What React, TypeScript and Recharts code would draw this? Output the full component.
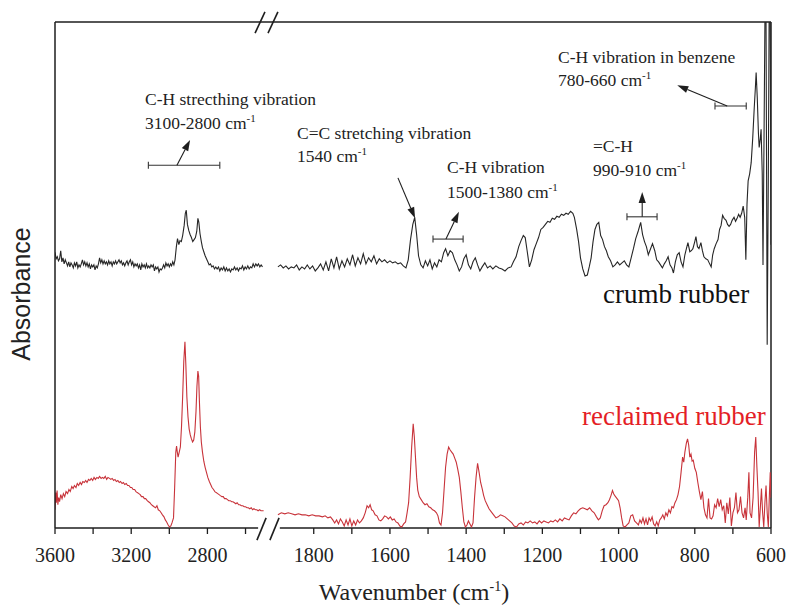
import { LineChart, Line, XAxis, YAxis, ReferenceLine } from 'recharts';

// FTIR spectra, [wavenumber (cm-1), absorbance (a.u.)]
const crumbHigh: [number, number][] = [
  [3600, 0.545], [3594, 0.532], [3588, 0.536], [3582, 0.528], [3576, 0.532], [3570, 0.548], [3564, 0.526], [3558, 0.534],
  [3552, 0.522], [3546, 0.53], [3540, 0.524], [3534, 0.518], [3528, 0.526], [3522, 0.516], [3516, 0.524], [3510, 0.52],
  [3504, 0.514], [3498, 0.524], [3492, 0.518], [3486, 0.526], [3480, 0.514], [3474, 0.52], [3468, 0.516], [3462, 0.522],
  [3456, 0.53], [3450, 0.52], [3444, 0.526], [3438, 0.518], [3432, 0.524], [3426, 0.516], [3420, 0.522], [3414, 0.512],
  [3408, 0.52], [3402, 0.516], [3396, 0.52], [3390, 0.51], [3384, 0.518], [3378, 0.514], [3372, 0.522], [3366, 0.534],
  [3360, 0.524], [3354, 0.53], [3348, 0.522], [3342, 0.528], [3336, 0.522], [3330, 0.526], [3324, 0.52], [3318, 0.528],
  [3312, 0.522], [3306, 0.526], [3300, 0.518], [3294, 0.526], [3288, 0.522], [3282, 0.528], [3276, 0.522], [3270, 0.526],
  [3264, 0.53], [3258, 0.524], [3252, 0.528], [3246, 0.52], [3240, 0.524], [3234, 0.518], [3228, 0.524], [3222, 0.528],
  [3216, 0.52], [3210, 0.526], [3204, 0.53], [3198, 0.52], [3192, 0.526], [3186, 0.516], [3180, 0.522], [3174, 0.518],
  [3168, 0.522], [3162, 0.514], [3156, 0.52], [3150, 0.51], [3144, 0.522], [3138, 0.516], [3132, 0.52], [3126, 0.514],
  [3120, 0.522], [3114, 0.514], [3108, 0.518], [3102, 0.514], [3096, 0.52], [3090, 0.516], [3084, 0.52], [3078, 0.508],
  [3072, 0.516], [3066, 0.512], [3060, 0.516], [3054, 0.506], [3048, 0.512], [3042, 0.51], [3036, 0.514], [3030, 0.52],
  [3024, 0.514], [3018, 0.524], [3012, 0.518], [3006, 0.522], [3000, 0.516], [2994, 0.522], [2988, 0.518], [2982, 0.526],
  [2976, 0.52], [2970, 0.53], [2963, 0.556], [2957, 0.572], [2950, 0.56], [2944, 0.568], [2937, 0.566], [2930, 0.578],
  [2922, 0.598], [2916, 0.622], [2911, 0.628], [2905, 0.6], [2898, 0.588], [2891, 0.58], [2884, 0.574], [2877, 0.566],
  [2870, 0.57], [2863, 0.574], [2856, 0.586], [2850, 0.612], [2845, 0.604], [2839, 0.582], [2832, 0.566], [2826, 0.554],
  [2819, 0.546], [2812, 0.538], [2805, 0.532], [2798, 0.526], [2791, 0.52], [2784, 0.522], [2777, 0.516], [2770, 0.518],
  [2763, 0.512], [2756, 0.516], [2749, 0.512], [2742, 0.516], [2735, 0.508], [2728, 0.514], [2721, 0.51], [2714, 0.516],
  [2707, 0.508], [2700, 0.514], [2693, 0.508], [2686, 0.512], [2679, 0.506], [2672, 0.512], [2665, 0.51], [2658, 0.516],
  [2651, 0.51], [2644, 0.514], [2637, 0.508], [2630, 0.514], [2623, 0.512], [2616, 0.518], [2609, 0.51], [2602, 0.516],
  [2595, 0.512], [2588, 0.518], [2581, 0.512], [2574, 0.516], [2567, 0.514], [2560, 0.522], [2553, 0.516], [2546, 0.522],
  [2539, 0.518], [2532, 0.522], [2525, 0.516], [2518, 0.52], [2511, 0.516],
];

const crumbLow: [number, number][] = [
  [1894, 0.516], [1887, 0.52], [1880, 0.514], [1873, 0.518], [1866, 0.512], [1859, 0.516], [1852, 0.514], [1845, 0.52],
  [1838, 0.51], [1831, 0.516], [1824, 0.512], [1817, 0.52], [1810, 0.512], [1803, 0.518], [1796, 0.508], [1789, 0.514],
  [1782, 0.522], [1775, 0.51], [1768, 0.526], [1761, 0.508], [1754, 0.532], [1747, 0.514], [1740, 0.536], [1733, 0.512],
  [1726, 0.528], [1719, 0.516], [1712, 0.532], [1705, 0.52], [1698, 0.54], [1691, 0.518], [1684, 0.534], [1677, 0.522],
  [1670, 0.542], [1663, 0.522], [1656, 0.534], [1649, 0.526], [1642, 0.538], [1635, 0.522], [1628, 0.532], [1621, 0.526],
  [1614, 0.53], [1607, 0.524], [1600, 0.528], [1593, 0.524], [1586, 0.526], [1579, 0.522], [1572, 0.524], [1565, 0.518],
  [1558, 0.514], [1552, 0.53], [1546, 0.57], [1540, 0.6], [1535, 0.614], [1530, 0.58], [1525, 0.538], [1519, 0.52],
  [1513, 0.514], [1507, 0.528], [1501, 0.518], [1495, 0.53], [1489, 0.512], [1483, 0.524], [1477, 0.516], [1471, 0.53],
  [1465, 0.526], [1459, 0.544], [1454, 0.552], [1448, 0.538], [1442, 0.548], [1436, 0.544], [1430, 0.53], [1424, 0.52],
  [1418, 0.508], [1412, 0.516], [1406, 0.532], [1400, 0.54], [1394, 0.52], [1388, 0.512], [1382, 0.526], [1376, 0.534],
  [1370, 0.52], [1364, 0.508], [1358, 0.516], [1351, 0.524], [1344, 0.514], [1337, 0.518], [1330, 0.512], [1322, 0.518],
  [1314, 0.514], [1306, 0.512], [1298, 0.508], [1290, 0.514], [1282, 0.516], [1276, 0.526], [1269, 0.536], [1262, 0.556],
  [1256, 0.568], [1250, 0.578], [1245, 0.574], [1240, 0.548], [1234, 0.516], [1228, 0.53], [1222, 0.55], [1216, 0.562],
  [1210, 0.574], [1204, 0.59], [1198, 0.594], [1192, 0.6], [1186, 0.606], [1180, 0.604], [1174, 0.612], [1168, 0.61],
  [1162, 0.616], [1156, 0.614], [1150, 0.62], [1144, 0.618], [1138, 0.622], [1132, 0.62], [1126, 0.626], [1120, 0.622],
  [1116, 0.614], [1110, 0.59], [1105, 0.566], [1100, 0.534], [1094, 0.512], [1088, 0.498], [1082, 0.5], [1077, 0.516],
  [1072, 0.534], [1067, 0.566], [1062, 0.59], [1057, 0.6], [1052, 0.604], [1047, 0.578], [1042, 0.57], [1037, 0.556],
  [1032, 0.548], [1027, 0.536], [1021, 0.528], [1015, 0.516], [1009, 0.52], [1003, 0.526], [997, 0.52], [991, 0.524],
  [985, 0.528], [979, 0.52], [973, 0.516], [967, 0.534], [961, 0.552], [955, 0.572], [948, 0.588], [942, 0.604],
  [937, 0.58], [932, 0.566], [927, 0.556], [922, 0.54], [917, 0.55], [911, 0.562], [905, 0.548], [900, 0.53],
  [895, 0.526], [890, 0.52], [885, 0.514], [880, 0.522], [875, 0.528], [870, 0.536], [865, 0.52], [860, 0.514],
  [856, 0.504], [851, 0.526], [846, 0.54], [841, 0.544], [836, 0.526], [831, 0.516], [826, 0.54], [822, 0.552],
  [818, 0.564], [813, 0.546], [809, 0.548], [805, 0.552], [800, 0.566], [797, 0.576], [793, 0.556], [789, 0.552],
  [784, 0.564], [780, 0.548], [776, 0.536], [771, 0.532], [766, 0.53], [761, 0.522], [757, 0.516], [753, 0.54],
  [749, 0.552], [744, 0.562], [739, 0.57], [735, 0.59], [731, 0.598], [727, 0.618], [723, 0.612], [718, 0.608],
  [714, 0.6], [710, 0.596], [706, 0.6], [702, 0.608], [697, 0.614], [693, 0.606], [689, 0.612], [685, 0.62],
  [681, 0.614], [677, 0.622], [673, 0.636], [669, 0.614], [666, 0.53], [663, 0.64], [660, 0.686], [656, 0.7],
  [652, 0.722], [648, 0.77], [644, 0.83], [641, 0.87], [639, 0.9], [636, 0.85], [633, 0.78], [631, 0.752],
  [628, 0.77], [626, 0.788], [623, 0.7], [621, 0.52], [618, 0.8], [616, 1.0], [613, 1.0], [610, 0.362],
  [607, 0.7], [605, 1.0], [602, 1.0], [600, 0.56],
];

const reclaimedHigh: [number, number][] = [
  [3600, 0.036], [3596, 0.07], [3593, 0.05], [3589, 0.074], [3585, 0.046], [3581, 0.06], [3576, 0.052], [3570, 0.066],
  [3563, 0.058], [3556, 0.068], [3549, 0.062], [3542, 0.072], [3534, 0.068], [3527, 0.076], [3520, 0.072], [3512, 0.082],
  [3505, 0.078], [3498, 0.084], [3490, 0.08], [3483, 0.088], [3476, 0.084], [3468, 0.09], [3461, 0.086], [3454, 0.092],
  [3446, 0.09], [3439, 0.094], [3432, 0.09], [3424, 0.096], [3417, 0.094], [3410, 0.098], [3402, 0.094], [3395, 0.1],
  [3388, 0.096], [3380, 0.1], [3373, 0.098], [3366, 0.102], [3358, 0.098], [3351, 0.1], [3344, 0.098], [3336, 0.102],
  [3329, 0.096], [3322, 0.1], [3314, 0.098], [3307, 0.096], [3300, 0.098], [3292, 0.094], [3285, 0.096], [3278, 0.092],
  [3270, 0.094], [3263, 0.09], [3256, 0.092], [3248, 0.088], [3241, 0.09], [3234, 0.086], [3226, 0.088], [3219, 0.084],
  [3212, 0.084], [3204, 0.08], [3197, 0.08], [3190, 0.076], [3182, 0.076], [3175, 0.072], [3168, 0.07], [3160, 0.068],
  [3153, 0.066], [3146, 0.062], [3138, 0.062], [3131, 0.058], [3124, 0.058], [3116, 0.054], [3109, 0.052], [3102, 0.05],
  [3094, 0.046], [3087, 0.044], [3080, 0.042], [3072, 0.04], [3065, 0.044], [3058, 0.036], [3050, 0.034], [3043, 0.03],
  [3036, 0.026], [3028, 0.022], [3021, 0.016], [3014, 0.012], [3006, 0.006], [2999, 0.002], [2992, 0.004], [2986, 0.01],
  [2978, 0.02], [2972, 0.08], [2966, 0.15], [2962, 0.162], [2958, 0.15], [2954, 0.14], [2948, 0.15], [2942, 0.16],
  [2936, 0.2], [2930, 0.26], [2924, 0.33], [2918, 0.368], [2913, 0.32], [2908, 0.26], [2902, 0.22], [2896, 0.196],
  [2890, 0.184], [2884, 0.176], [2878, 0.17], [2872, 0.174], [2866, 0.19], [2860, 0.23], [2855, 0.28], [2850, 0.31],
  [2846, 0.3], [2842, 0.25], [2837, 0.2], [2832, 0.17], [2826, 0.15], [2819, 0.132], [2812, 0.12], [2805, 0.11],
  [2798, 0.1], [2790, 0.092], [2783, 0.086], [2776, 0.08], [2768, 0.076], [2761, 0.072], [2754, 0.07], [2746, 0.068],
  [2739, 0.066], [2732, 0.064], [2724, 0.062], [2717, 0.062], [2710, 0.058], [2702, 0.058], [2695, 0.056], [2688, 0.054],
  [2680, 0.054], [2673, 0.052], [2666, 0.052], [2658, 0.05], [2651, 0.048], [2644, 0.05], [2636, 0.046], [2629, 0.046],
  [2622, 0.044], [2614, 0.044], [2607, 0.042], [2600, 0.042], [2592, 0.04], [2585, 0.04], [2578, 0.038], [2570, 0.04],
  [2563, 0.036], [2556, 0.038], [2548, 0.036], [2541, 0.036], [2534, 0.034], [2526, 0.036], [2519, 0.034], [2511, 0.034],
  [2505, 0.034],
];

const reclaimedLow: [number, number][] = [
  [1894, 0.026], [1885, 0.03], [1876, 0.028], [1867, 0.03], [1858, 0.028], [1849, 0.026], [1840, 0.028], [1831, 0.026],
  [1822, 0.026], [1813, 0.024], [1804, 0.026], [1795, 0.024], [1786, 0.024], [1777, 0.022], [1770, 0.024], [1763, 0.02],
  [1756, 0.022], [1750, 0.016], [1745, 0.01], [1740, 0.016], [1735, 0.008], [1730, 0.018], [1725, 0.012], [1720, 0.004],
  [1715, 0.016], [1710, 0.006], [1705, 0.018], [1700, 0.004], [1695, 0.014], [1690, 0.006], [1685, 0.016], [1680, 0.01],
  [1675, 0.014], [1670, 0.02], [1665, 0.03], [1660, 0.044], [1656, 0.04], [1652, 0.046], [1648, 0.036], [1644, 0.034],
  [1639, 0.026], [1634, 0.024], [1629, 0.016], [1624, 0.014], [1619, 0.018], [1614, 0.024], [1609, 0.022], [1604, 0.018],
  [1599, 0.022], [1594, 0.016], [1589, 0.018], [1584, 0.012], [1579, 0.01], [1574, 0.004], [1569, 0.002], [1564, 0.008],
  [1559, 0.012], [1555, 0.03], [1551, 0.05], [1547, 0.1], [1543, 0.16], [1539, 0.206], [1536, 0.18], [1533, 0.14],
  [1530, 0.1], [1527, 0.075], [1523, 0.062], [1518, 0.056], [1513, 0.05], [1508, 0.046], [1503, 0.048], [1498, 0.042],
  [1493, 0.04], [1488, 0.036], [1483, 0.034], [1478, 0.03], [1474, 0.024], [1470, 0.01], [1466, 0.006], [1462, 0.03],
  [1458, 0.075], [1454, 0.12], [1450, 0.146], [1446, 0.16], [1442, 0.154], [1438, 0.15], [1434, 0.146], [1430, 0.138],
  [1426, 0.13], [1422, 0.116], [1418, 0.1], [1414, 0.072], [1410, 0.04], [1406, 0.012], [1402, 0.002], [1398, 0.006],
  [1394, 0.014], [1390, 0.008], [1386, 0.002], [1382, 0.01], [1378, 0.06], [1374, 0.1], [1370, 0.128], [1366, 0.11],
  [1362, 0.09], [1358, 0.078], [1354, 0.064], [1350, 0.054], [1345, 0.046], [1340, 0.038], [1334, 0.032], [1328, 0.026],
  [1322, 0.02], [1316, 0.022], [1310, 0.026], [1304, 0.024], [1298, 0.022], [1292, 0.018], [1286, 0.014], [1280, 0.01],
  [1274, 0.004], [1268, 0.002], [1262, 0.008], [1256, 0.01], [1250, 0.006], [1244, 0.012], [1238, 0.01], [1232, 0.014],
  [1226, 0.01], [1220, 0.012], [1214, 0.008], [1208, 0.014], [1202, 0.01], [1196, 0.014], [1190, 0.012], [1184, 0.01],
  [1178, 0.014], [1172, 0.012], [1166, 0.016], [1160, 0.012], [1154, 0.018], [1148, 0.014], [1142, 0.02], [1136, 0.018],
  [1130, 0.016], [1124, 0.024], [1118, 0.03], [1112, 0.028], [1106, 0.034], [1100, 0.038], [1094, 0.04], [1088, 0.038],
  [1082, 0.036], [1076, 0.04], [1070, 0.034], [1064, 0.03], [1058, 0.022], [1053, 0.016], [1048, 0.02], [1043, 0.034],
  [1038, 0.044], [1033, 0.046], [1028, 0.05], [1024, 0.056], [1020, 0.064], [1016, 0.074], [1012, 0.066], [1008, 0.062],
  [1004, 0.058], [1000, 0.054], [996, 0.04], [992, 0.02], [988, 0.004], [983, 0.002], [978, 0.006], [973, 0.01],
  [968, 0.024], [963, 0.026], [958, 0.014], [953, 0.01], [948, 0.006], [944, 0.016], [940, 0.01], [936, 0.02],
  [932, 0.008], [928, 0.018], [924, 0.006], [920, 0.02], [916, 0.014], [912, 0.022], [908, 0.008], [904, 0.004],
  [900, 0.012], [896, 0.004], [892, 0.016], [888, 0.02], [884, 0.026], [880, 0.018], [876, 0.03], [872, 0.024],
  [868, 0.036], [864, 0.03], [860, 0.042], [856, 0.04], [852, 0.05], [848, 0.056], [844, 0.066], [840, 0.082],
  [836, 0.11], [832, 0.14], [829, 0.13], [826, 0.15], [822, 0.168], [819, 0.176], [816, 0.164], [813, 0.14],
  [810, 0.146], [807, 0.132], [804, 0.134], [800, 0.118], [796, 0.11], [792, 0.09], [788, 0.072], [784, 0.056],
  [780, 0.072], [776, 0.04], [772, 0.026], [768, 0.02], [764, 0.058], [760, 0.02], [756, 0.018], [752, 0.024],
  [748, 0.046], [744, 0.04], [740, 0.058], [736, 0.042], [732, 0.056], [728, 0.036], [724, 0.044], [720, 0.01],
  [716, 0.05], [712, 0.028], [708, 0.06], [704, 0.004], [700, 0.03], [696, 0.04], [692, 0.07], [688, 0.03],
  [684, 0.036], [680, 0.062], [676, 0.03], [672, 0.02], [668, 0.04], [665, 0.016], [661, 0.06], [658, 0.11],
  [655, 0.03], [651, 0.02], [647, 0.06], [643, 0.15], [640, 0.18], [637, 0.12], [634, 0.07], [631, 0.002],
  [628, 0.04], [625, 0.078], [622, 0.03], [619, 0.002], [616, 0.05], [613, 0.084], [610, 0.03], [607, 0.002],
  [604, 0.07], [602, 0.11], [600, 0.06],
];

const tickWavenumbers = [3600, 3400, 3200, 3000, 2800, 2600, 1800, 1700, 1600, 1500, 1400, 1300, 1200, 1100, 1000, 900, 800, 700, 600];
const tickLabels = ['3600', '', '3200', '', '2800', '', '1800', '', '1600', '', '1400', '', '1200', '', '1000', '', '800', '', '600'];

// broken axis: 3600-2500 compressed 2x, 1900-600 at full scale
const AXIS_END = 1879;
const posOf = (w: number) => (w > 2000 ? (3600 - w) / 2 : AXIS_END + 600 - w);
const toRows = (pts: [number, number][]) => pts.map(([w, a]) => ({ pos: posOf(w), wn: w, abs: a }));

const BREAK_LEFT = posOf(2534);
const BREAK_RIGHT = posOf(1889);

const W = 787;
const H = 607;
const SERIF = '"Liberation Serif", "Times New Roman", serif';
const INK = '#1e1e1e';
const RED_LINE = '#c8333a';

function Arrow(p: any) {
  const { x1, y1, x2, y2 } = p;
  const ang = Math.atan2(y2 - y1, x2 - x1);
  const len = 11;
  const half = 3.6;
  const bx = x2 - len * Math.cos(ang);
  const by = y2 - len * Math.sin(ang);
  const px = -Math.sin(ang) * half;
  const py = Math.cos(ang) * half;
  return (
    <g>
      <line x1={x1} y1={y1} x2={bx} y2={by} stroke={INK} strokeWidth={1.1} />
      <polygon points={`${x2},${y2} ${bx + px},${by + py} ${bx - px},${by - py}`} fill={INK} />
    </g>
  );
}

function Bracket(p: any) {
  const { x1, y1, x2, y2 } = p;
  return (
    <g stroke="#333" strokeWidth={1.1}>
      <line x1={x1} y1={y1} x2={x2} y2={y2} />
      <line x1={x1} y1={y1 - 3.5} x2={x1} y2={y1 + 3.5} />
      <line x1={x2} y1={y2 - 3.5} x2={x2} y2={y2 + 3.5} />
    </g>
  );
}

const brackets = [
  { from: 3110, to: 2735, at: 0.717 },
  { from: 1487, to: 1408, at: 0.571 },
  { from: 978, to: 899, at: 0.615 },
  { from: 747, to: 665, at: 0.834 },
];

const arrows = [
  { w1: 2960, a1: 0.717, w2: 2891, a2: 0.767 },
  { w1: 1579, a1: 0.692, w2: 1534, a2: 0.612 },
  { w1: 1453, a1: 0.571, w2: 1419, a2: 0.625 },
  { w1: 938, a1: 0.615, w2: 938, a2: 0.664 },
  { w1: 715, a1: 0.834, w2: 846, a2: 0.875 },
];

function Sup({ children }: { children: string }) {
  return (
    <tspan dy={-7} fontSize={11}>
      {children}
    </tspan>
  );
}

export default function App() {
  const ticks = tickWavenumbers.map(posOf);
  const labelAt = (v: number) => {
    const i = ticks.findIndex((t) => Math.abs(t - v) < 0.01);
    return i >= 0 ? tickLabels[i] : '';
  };
  const frame = { stroke: INK, strokeWidth: 1.5 };

  return (
    <div style={{ position: 'relative', width: W, height: H, overflow: 'hidden', background: '#fff' }}>
      {/* take the page margin away so the figure owns the whole window */}
      <style>{'html,body{margin:0;padding:0;overflow:hidden}'}</style>
      <LineChart width={W} height={H} margin={{ top: 22, right: 16, bottom: 39, left: 0 }}>
        <XAxis
          type="number"
          dataKey="pos"
          domain={[0, AXIS_END]}
          ticks={ticks}
          interval={0}
          tickFormatter={labelAt}
          axisLine={false}
          tickLine={{ stroke: INK, strokeWidth: 1.3 }}
          tickSize={6}
          tickMargin={14}
          height={40}
          tick={{ fontFamily: SERIF, fontSize: 20, fill: '#222' }}
          allowDataOverflow
        />
        <YAxis
          type="number"
          domain={[0, 1]}
          tick={false}
          tickLine={false}
          axisLine={frame}
          width={55}
          allowDataOverflow
        />
        <ReferenceLine y={1} {...frame} />
        <ReferenceLine x={AXIS_END} {...frame} />
        <ReferenceLine segment={[{ x: 0, y: 0 }, { x: BREAK_LEFT, y: 0 }]} {...frame} />
        <ReferenceLine segment={[{ x: BREAK_RIGHT, y: 0 }, { x: AXIS_END, y: 0 }]} {...frame} />
        {[542, 576].map((c) => (
          <ReferenceLine
            key={`b${c}`}
            segment={[{ x: c - 12, y: -0.024 }, { x: c + 12, y: 0.02 }]}
            stroke={INK}
            strokeWidth={1.6}
            ifOverflow="visible"
          />
        ))}
        {[538, 572].map((c) => (
          <ReferenceLine
            key={`t${c}`}
            segment={[{ x: c - 13, y: 0.978 }, { x: c + 13, y: 1.02 }]}
            stroke={INK}
            strokeWidth={1.6}
            ifOverflow="visible"
          />
        ))}
        {brackets.map((b) => (
          <ReferenceLine
            key={`br${b.from}`}
            segment={[{ x: posOf(b.from), y: b.at }, { x: posOf(b.to), y: b.at }]}
            shape={Bracket}
          />
        ))}
        {arrows.map((a) => (
          <ReferenceLine
            key={`ar${a.w1}`}
            segment={[{ x: posOf(a.w1), y: a.a1 }, { x: posOf(a.w2), y: a.a2 }]}
            shape={Arrow}
          />
        ))}
        <Line data={toRows(reclaimedHigh)} dataKey="abs" type="linear" stroke={RED_LINE} strokeWidth={1.1} dot={false} isAnimationActive={false} />
        <Line data={toRows(reclaimedLow)} dataKey="abs" type="linear" stroke={RED_LINE} strokeWidth={1.1} dot={false} isAnimationActive={false} />
        <Line data={toRows(crumbHigh)} dataKey="abs" type="linear" stroke="#262626" strokeWidth={1.1} dot={false} isAnimationActive={false} />
        <Line data={toRows(crumbLow)} dataKey="abs" type="linear" stroke="#262626" strokeWidth={1.1} dot={false} isAnimationActive={false} />
      </LineChart>
      <svg width={W} height={H} style={{ position: 'absolute', left: 0, top: 0, pointerEvents: 'none' }}>
        <g fontFamily={SERIF} fontSize={17.5} fill="#222">
          <text x={145} y={105}>C-H strecthing vibration</text>
          <text x={145} y={129}>
            3100-2800 cm<Sup>-1</Sup>
          </text>
          <text x={297} y={139}>C=C stretching vibration</text>
          <text x={297} y={162}>
            1540 cm<Sup>-1</Sup>
          </text>
          <text x={447} y={173}>C-H vibration</text>
          <text x={447} y={198}>
            1500-1380 cm<Sup>-1</Sup>
          </text>
          <text x={593} y={152}>=C-H</text>
          <text x={593} y={176}>
            990-910 cm<Sup>-1</Sup>
          </text>
          <text x={558} y={63}>C-H vibration in benzene</text>
          <text x={558} y={86}>
            780-660 cm<Sup>-1</Sup>
          </text>
        </g>
        <text x={603} y={303} fontFamily={SERIF} fontSize={27} fill="#111">
          crumb rubber
        </text>
        <text x={582} y={425} fontFamily={SERIF} fontSize={27} fill="#e41e26">
          reclaimed rubber
        </text>
        <text x={414} y={600} textAnchor="middle" fontFamily={SERIF} fontSize={24} fill="#222">
          Wavenumber (cm
          <tspan dy={-9} fontSize={14}>-1</tspan>
          <tspan dy={9}>)</tspan>
        </text>
        <text
          x={30}
          y={294}
          transform="rotate(-90 30 294)"
          textAnchor="middle"
          fontFamily='"Liberation Sans", Arial, sans-serif'
          fontSize={25}
          fill="#222"
        >
          Absorbance
        </text>
      </svg>
    </div>
  );
}
